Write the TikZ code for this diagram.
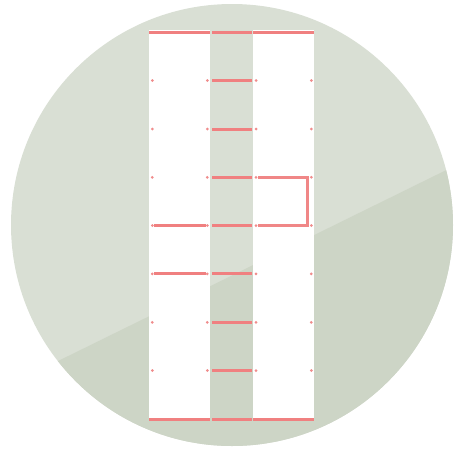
\documentclass[tikz,border=0pt]{standalone}
\begin{document}
\begin{tikzpicture}[x=1pt,y=-1pt,
  redline/.style={line width=3pt, color={rgb,255:red,240;green,128;blue,128}},
  bracketline/.style={line width=2.4pt, color={rgb,255:red,240;green,135;blue,135}},
  dotmark/.style={fill={rgb,255:red,240;green,140;blue,140}, draw=none}]
\definecolor{lightg}{RGB}{217,223,212}
\definecolor{darkg}{RGB}{205,213,198}
\useasboundingbox (0,0) rectangle (455,450);
% circle
\fill[lightg] (232,225) circle (221);
\begin{scope}
  \clip (232,225) circle (221);
  \fill[darkg] (-20,399.4) -- (520,133.8) -- (520,500) -- (-20,500) -- cycle;
\end{scope}
% white columns
\fill[white] (149,30) rectangle (210,421);
\fill[white] (253,30) rectangle (314,421);
% top and bottom bars
\foreach \yy in {32.5,419.2} {
  \draw[redline] (149,\yy) -- (210,\yy);
  \draw[redline] (212,\yy) -- (252,\yy);
  \draw[redline] (253,\yy) -- (314,\yy);
}
% rungs and dots
\foreach \yy in {80.5,129,177.3,225.5,273.8,322.3,370.5} {
  \draw[redline] (212,\yy) -- (252,\yy);
  \foreach \xx in {152.3,207.3,256,311.3} {
    \fill[dotmark] (\xx,\yy) circle (1.5);
  }
}
% left column lines
\draw[redline] (154,225.5) -- (205.7,225.5);
\draw[redline] (154,273.8) -- (205.7,273.8);
% right bracket
\draw[bracketline] (258,177.3) -- (307.5,177.3) -- (307.5,225.5) -- (258,225.5);
\end{tikzpicture}
\end{document}
